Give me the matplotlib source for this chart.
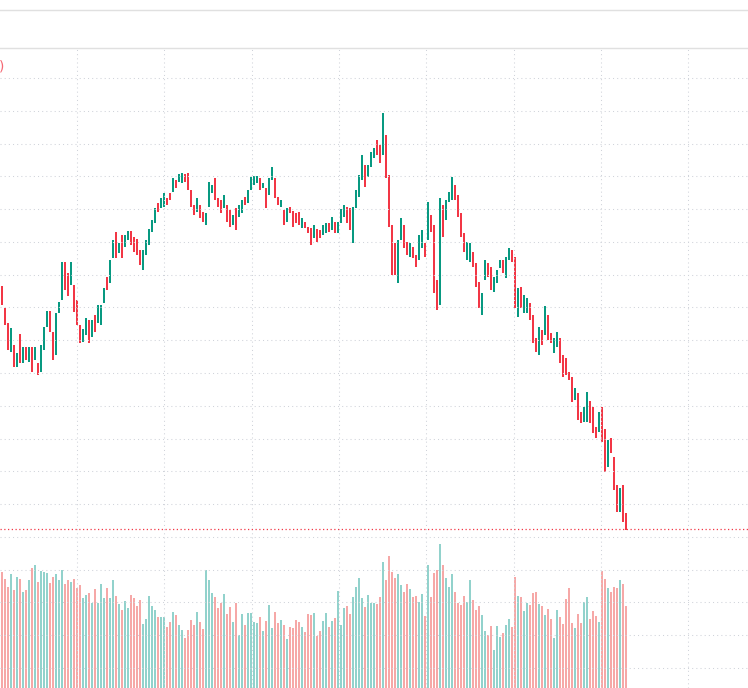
import numpy as np
import matplotlib
matplotlib.use("Agg")
import matplotlib.pyplot as plt
from matplotlib.lines import Line2D

# candle opens / closes (price) and volume per bar
opens = [41.4, 39.2, 37.7, 34.8, 35.5, 33.3, 36.6, 33.7, 35.3, 33.8,
         35.3, 34.0, 33.7, 32.8, 35.0, 37.3, 38.9, 36.8, 34.5, 38.7,
         40.0, 43.8, 42.7, 41.5, 41.5, 40.0, 37.5, 35.8, 36.5, 38.0,
         36.3, 38.5, 37.7, 37.5, 39.7, 42.3, 41.7, 44.2, 46.8, 44.7,
         46.5, 45.3, 46.0, 46.9, 46.3, 46.1, 45.0, 43.0, 44.5, 45.5,
         46.8, 47.7, 49.7, 49.2, 49.3, 50.2, 50.7, 50.8, 52.0, 51.8,
         51.7, 52.6, 52.7, 51.0, 49.5, 48.8, 49.5, 48.8, 47.5, 49.3,
         50.7, 52.2, 50.2, 50.0, 49.2, 49.5, 49.0, 47.5, 49.2, 48.3,
         48.7, 50.3, 49.7, 51.0, 51.5, 51.7, 52.2, 51.2, 51.2, 50.5,
         52.0, 52.2, 50.3, 49.3, 49.0, 47.8, 49.3, 48.9, 48.7, 48.8,
         47.2, 47.8, 47.3, 47.2, 46.2, 47.1, 47.0, 46.5, 46.7, 47.7,
         47.0, 47.8, 46.7, 47.7, 48.3, 49.3, 49.2, 45.7, 49.2, 50.3,
         52.0, 53.5, 52.3, 53.3, 54.2, 56.0, 55.5, 54.5, 56.5, 52.5,
         47.5, 45.7, 41.7, 46.0, 47.5, 45.8, 44.3, 45.3, 44.5, 44.0,
         45.2, 45.7, 46.0, 48.5, 47.5, 42.0, 39.5, 49.5, 48.0, 49.8,
         50.0, 51.5, 50.5, 48.7, 46.7, 44.0, 43.8, 44.8, 43.7, 41.8,
         38.5, 42.0, 43.7, 43.3, 40.8, 41.7, 43.2, 44.0, 42.2, 44.0,
         45.0, 44.3, 38.3, 41.3, 38.7, 38.7, 39.7, 38.5, 36.2, 34.5,
         37.0, 36.5, 38.5, 36.7, 34.7, 35.3, 36.2, 34.5, 34.2, 32.8,
         32.3, 30.0, 30.7, 28.8, 27.8, 27.8, 29.9, 29.3, 27.3, 26.8,
         29.3, 27.1, 23.3, 26.2, 24.3, 21.5, 18.8, 21.5, 18.7]
closes = [39.5, 37.5, 35.0, 37.2, 33.3, 34.7, 33.7, 35.3, 34.0, 35.3,
          32.8, 35.3, 32.5, 35.5, 37.3, 38.9, 36.8, 34.0, 38.7, 39.8,
          43.8, 41.0, 40.4, 43.8, 38.8, 37.5, 35.7, 37.1, 38.2, 35.7,
          38.0, 36.8, 39.5, 39.5, 41.2, 41.0, 44.0, 46.0, 44.2, 45.7,
          44.2, 46.5, 46.9, 45.5, 44.8, 44.5, 43.5, 45.0, 46.0, 47.1,
          48.0, 49.2, 48.8, 50.2, 50.7, 49.5, 50.0, 52.2, 51.2, 52.6,
          52.7, 51.8, 51.0, 49.3, 48.5, 50.2, 48.2, 47.8, 48.7, 51.8,
          51.5, 50.0, 49.3, 48.7, 50.5, 47.8, 47.3, 48.5, 47.0, 49.5,
          50.0, 49.5, 51.0, 52.3, 52.4, 52.4, 51.0, 51.7, 49.2, 52.2,
          53.3, 50.2, 49.5, 50.0, 47.5, 49.2, 48.7, 47.3, 47.7, 47.5,
          48.2, 47.2, 46.7, 45.5, 47.5, 45.8, 46.2, 47.5, 47.7, 46.8,
          48.3, 46.7, 47.8, 49.1, 49.5, 47.7, 47.0, 49.3, 51.0, 52.5,
          54.5, 51.3, 53.5, 54.8, 55.2, 54.5, 53.7, 58.7, 52.2, 47.3,
          42.5, 42.5, 46.0, 48.2, 45.2, 44.5, 45.7, 44.2, 43.3, 46.5,
          47.0, 44.3, 49.8, 46.8, 40.7, 39.0, 50.2, 46.3, 50.0, 50.8,
          52.3, 50.0, 48.3, 46.3, 44.8, 45.8, 45.7, 43.3, 41.3, 39.2,
          40.7, 44.0, 42.3, 41.0, 42.3, 43.0, 44.0, 42.7, 44.3, 45.2,
          43.8, 39.2, 41.2, 39.2, 40.5, 40.2, 38.0, 35.7, 34.8, 37.3,
          35.5, 39.4, 36.0, 35.7, 36.2, 36.8, 33.7, 32.3, 32.5, 32.0,
          29.8, 31.2, 28.0, 27.7, 29.3, 30.8, 27.7, 26.7, 26.2, 28.8,
          25.8, 22.8, 26.0, 24.7, 21.0, 18.8, 21.2, 17.8, 17.0]
volumes = [116, 109, 101, 114, 98, 111, 109, 96, 98, 108,
           120, 123, 106, 117, 116, 115, 105, 111, 114, 108,
           118, 104, 108, 106, 109, 100, 103, 90, 93, 95,
           85, 99, 85, 104, 90, 100, 90, 108, 92, 84,
           78, 87, 80, 93, 90, 82, 88, 64, 69, 92,
           82, 78, 71, 71, 71, 61, 66, 76, 73, 63,
           58, 50, 58, 68, 63, 76, 66, 59, 118, 108,
           95, 91, 80, 85, 94, 74, 81, 66, 85, 53,
           74, 63, 75, 75, 66, 65, 71, 57, 67, 83,
           60, 76, 65, 68, 63, 49, 61, 60, 68, 66,
           61, 56, 74, 73, 75, 52, 57, 67, 75, 61,
           67, 70, 97, 63, 80, 82, 74, 91, 101, 110,
           90, 81, 93, 85, 85, 84, 91, 126, 108, 132,
           116, 110, 114, 103, 96, 104, 99, 91, 92, 86,
           94, 72, 123, 91, 115, 118, 144, 123, 110, 101,
           114, 96, 85, 83, 92, 86, 108, 88, 78, 82,
           73, 57, 53, 62, 38, 62, 51, 55, 63, 69,
           61, 111, 92, 91, 77, 85, 83, 95, 96, 84,
           82, 73, 79, 69, 50, 78, 71, 64, 89, 100,
           65, 60, 74, 65, 86, 91, 69, 77, 72, 66,
           117, 109, 100, 96, 101, 100, 108, 104, 82]

UP = "#089981"
DOWN = "#F23645"
GRID = "#d0d3da"

o = np.array(opens)
c = np.array(closes)
v = np.array(volumes)
idx = np.arange(len(c))
up = c >= o

W, H = 748, 688
fig = plt.figure(figsize=(W / 100, H / 100), dpi=100)
fig.patch.set_facecolor("white")

pos = [0, 0, 1, 640 / H]
xlim = (-2 / 3, 746 / 3)

# volume pane (overlay, same area)
axv = fig.add_axes(pos)
axv.bar(idx, v, width=0.72, linewidth=0,
        color=np.where(up, "#26a69a", "#ef5350"), alpha=0.5)
axv.set_xlim(*xlim)
axv.set_ylim(0, 640)
axv.axis("off")

ax = fig.add_axes(pos)
ax.patch.set_alpha(0)
ax.bar(idx, np.abs(c - o), bottom=np.minimum(o, c), width=0.62, linewidth=0,
       color=np.where(up, UP, DOWN))
ax.set_xlim(*xlim)
ax.set_ylim(1.2, 65.2)

# grid
ax.set_yticks((700 - (78 + 32.78 * np.arange(19))) / 10)
ax.set_xticks(25 + 29.1 * np.arange(8))
ax.grid(True, color=GRID, linestyle=(0, (1, 3)), linewidth=0.75)
ax.tick_params(length=0, labelleft=False, labelbottom=False)
for s in ax.spines.values():
    s.set_visible(False)

# last price line
ax.axhline(c[-1] + 0.1, color=DOWN, linestyle=(0, (1, 2)), linewidth=0.9)

# header separators
for yy in (9.5, 48):
    fig.add_artist(Line2D([0, 1], [1 - yy / H, 1 - yy / H], color="#e0e0e0",
                          linewidth=1.0, transform=fig.transFigure))

fig.text(-0.001, 1 - 67 / H, ")", color=DOWN, fontsize=10,
         ha="left", va="center", alpha=0.75)

fig.savefig("out.png", dpi=100, facecolor="white")
